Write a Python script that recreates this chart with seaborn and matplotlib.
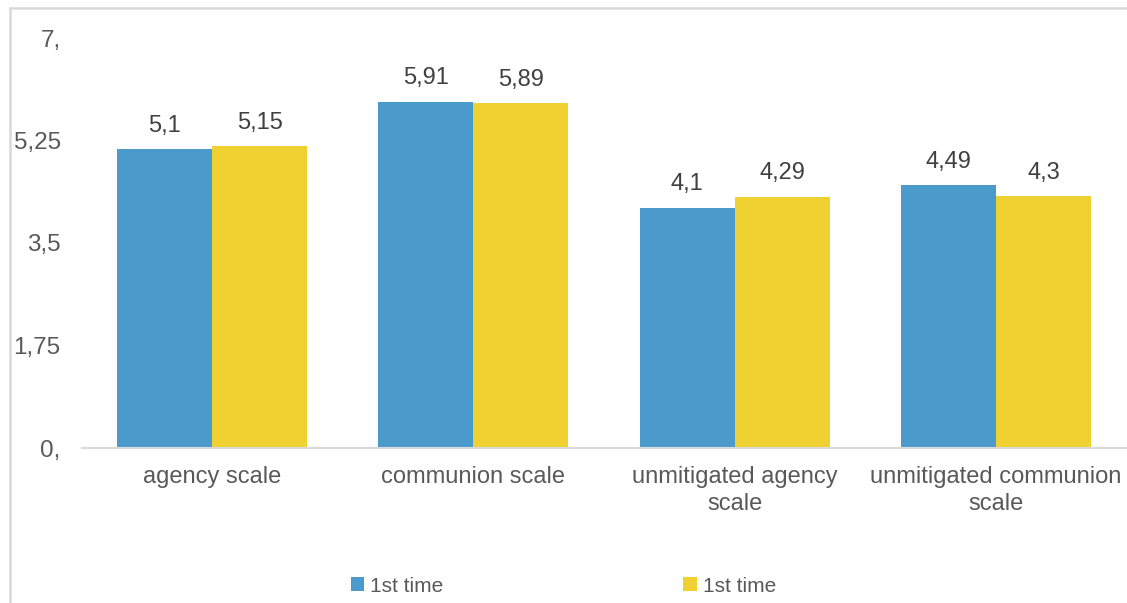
import matplotlib
matplotlib.use("Agg")
import matplotlib.pyplot as plt
from matplotlib.lines import Line2D
from matplotlib.patches import Rectangle
import seaborn as sns
import pandas as pd

categories = ["agency scale", "communion scale",
              "unmitigated agency\nscale", "unmitigated communion\nscale"]
series_keys = ["first", "second"]
series_labels = ["1st time", "1st time"]
series_a = [5.10, 5.91, 4.10, 4.49]
series_b = [5.15, 5.89, 4.29, 4.30]
y_ticks = [0, 1.75, 3.5, 5.25, 7]
y_tick_labels = ["0,", "1,75", "3,5", "5,25", "7,"]
colors = ["#4A9BCB", "#F0D132"]

rows = []
for cat, a, b in zip(categories, series_a, series_b):
    rows.append({"category": cat, "series": series_keys[0], "value": a})
    rows.append({"category": cat, "series": series_keys[1], "value": b})
df = pd.DataFrame(rows)

sns.set_theme(style="white")
plt.rcParams["font.family"] = ["Liberation Sans", "DejaVu Sans"]

fig = plt.figure(figsize=(11.27, 6.03), dpi=100)
ax = fig.add_axes([81.5 / 1127, 155 / 603, 1045 / 1127, 410 / 603])

sns.barplot(data=df, x="category", y="value", hue="series",
            order=categories, hue_order=series_keys,
            palette=colors, saturation=1, width=0.728, linewidth=0,
            errorbar=None, legend=False, ax=ax)

ax.set_xlim(-0.5, 3.5)
ax.set_ylim(0, 7)
ax.set_yticks(y_ticks)
ax.set_yticklabels(y_tick_labels)
ax.tick_params(axis="y", length=0, pad=15, labelsize=17.5, labelcolor="#595959")
ax.tick_params(axis="x", length=0, pad=13, labelsize=17, labelcolor="#595959")
for lbl in ax.get_xticklabels():
    lbl.set_linespacing(1.3)
ax.set_xlabel("")
ax.set_ylabel("")

for side in ["top", "right", "left"]:
    ax.spines[side].set_visible(False)
ax.spines["bottom"].set_color("#D9D9D9")
ax.spines["bottom"].set_linewidth(1.5)

# value labels with decimal commas
for container in ax.containers:
    labels = [f"{b.get_height():g}".replace(".", ",") for b in container]
    ax.bar_label(container, labels=labels, padding=9, fontsize=17, color="#404040")

# legend below the plot
handles = [Rectangle((0, 0), 1, 1, facecolor=c, edgecolor="none") for c in colors]
leg = fig.legend(handles, series_labels, loc="center", bbox_to_anchor=(0.5, 1 - 586 / 603),
                 ncol=2, frameon=False, fontsize=15, handlelength=0.65, handleheight=0.65,
                 handletextpad=0.3, columnspacing=11.5, labelcolor="#595959")

# chart area outline
fig.add_artist(Line2D([10 / 1127, 10 / 1127], [0, 1 - 8 / 603],
                      transform=fig.transFigure, color="#D9D9D9", linewidth=1.8))
fig.add_artist(Line2D([10 / 1127, 1], [1 - 8 / 603, 1 - 8 / 603],
                      transform=fig.transFigure, color="#D9D9D9", linewidth=1.8))

fig.savefig("out.png", dpi=100, facecolor="white")
